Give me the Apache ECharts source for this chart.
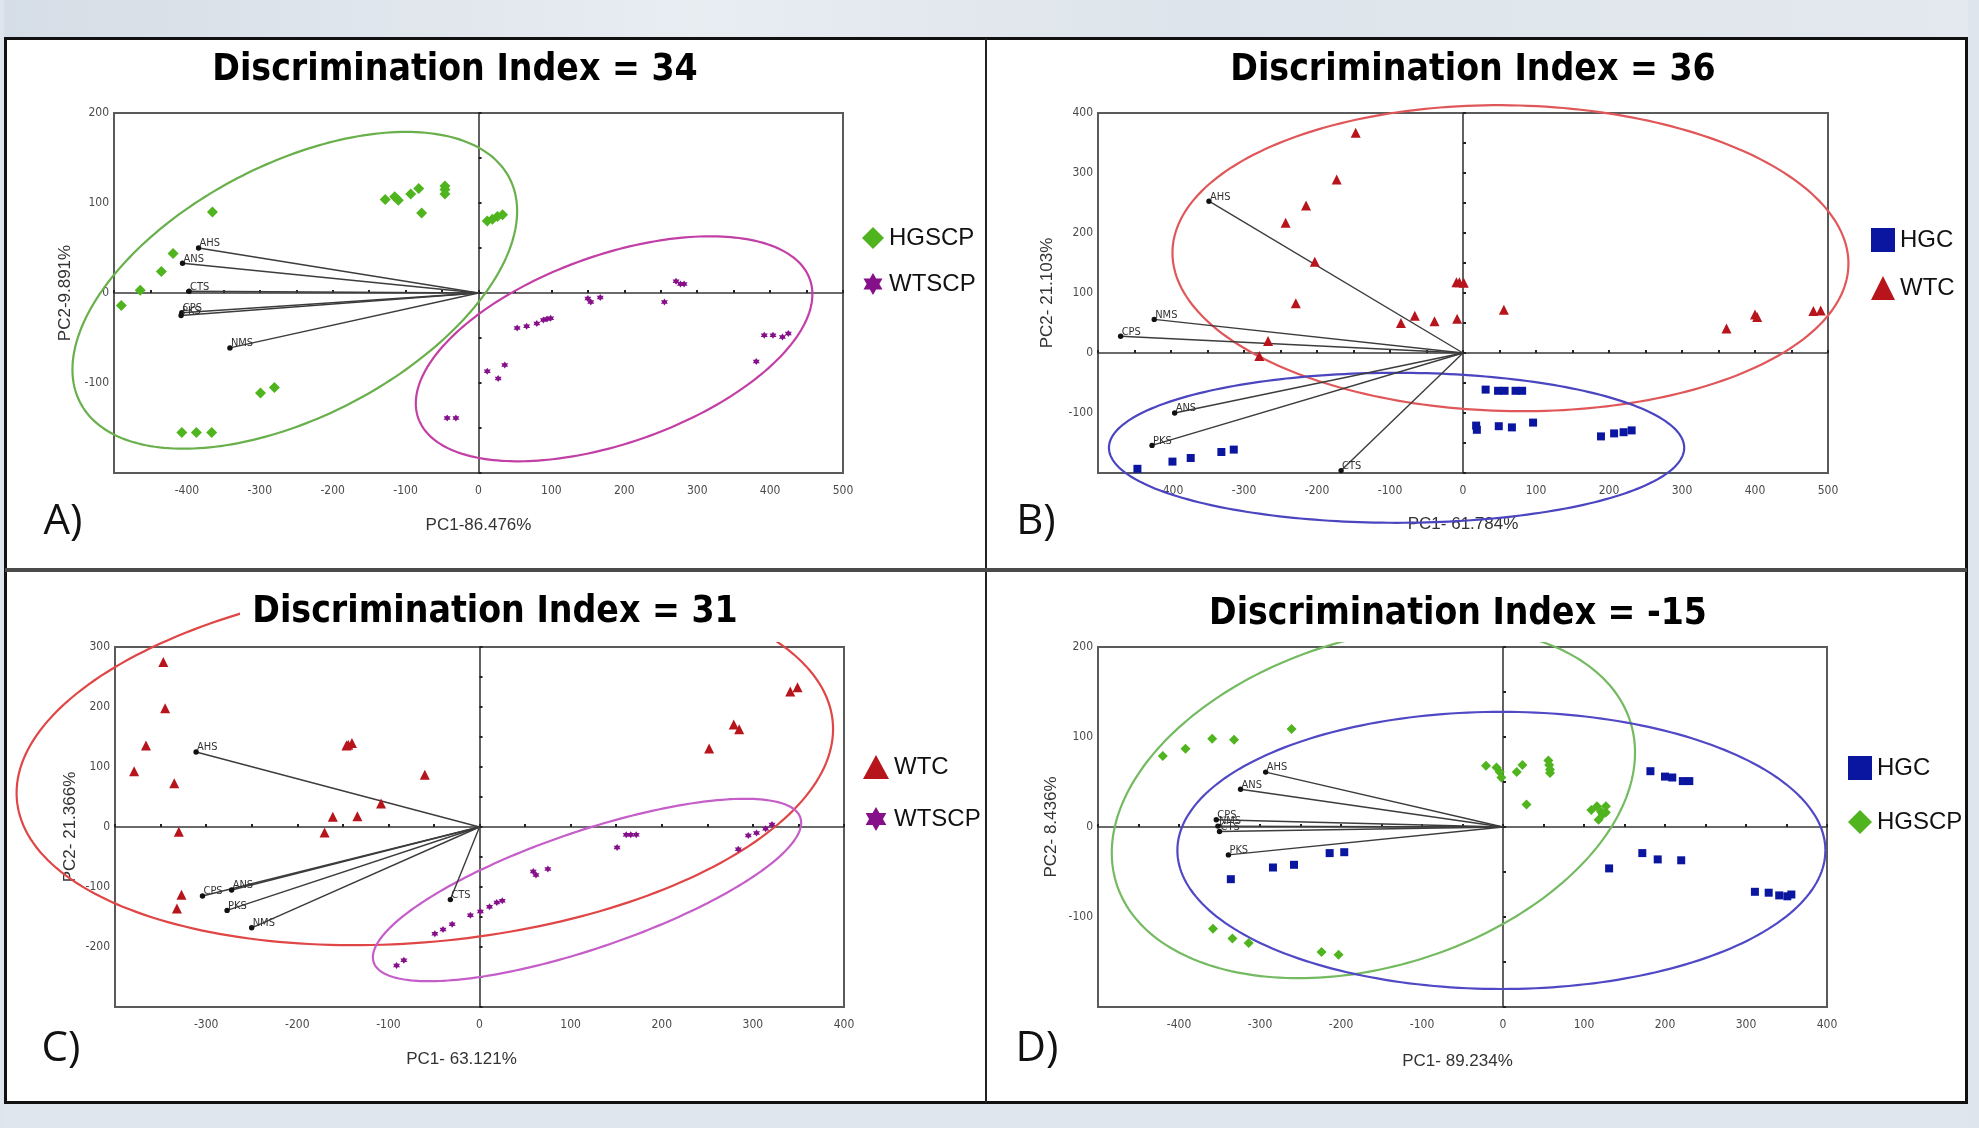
<!DOCTYPE html>
<html>
<head>
<meta charset="utf-8">
<script src="https://cdn.jsdelivr.net/npm/echarts@6/dist/echarts.min.js"></script>
<style>
html,body{margin:0;padding:0;background:#dfe5ec;}
#c{width:1979px;height:1128px;}
</style>
</head>
<body>
<div id="c"></div>
<script>
// ================= DATA =================
const TITLES = ['Discrimination Index = 34', 'Discrimination Index = 36', 'Discrimination Index = 31', 'Discrimination Index = -15'];
const PANEL_LETTERS = ['A)', 'B)', 'C)', 'D)'];
const X_NAMES = ['PC1-86.476%', 'PC1- 61.784%', 'PC1- 63.121%', 'PC1- 89.234%'];
const Y_NAMES = ['PC2-9.891%', 'PC2- 21.103%', 'PC2- 21.366%', 'PC2- 8.436%'];
const X_RANGES = [[-500, 500], [-500, 500], [-400, 400], [-500, 400]];
const Y_RANGES = [[-200, 200], [-200, 400], [-300, 300], [-200, 200]];
const LABEL_STEP = 100;
const TICK_STEP = 50;

// Panel A
const A_HGSCP = [[-490,-14],[-464,3],[-435,24],[-419,44],[-365,90],[-128,104],[-115,107],[-110,103],[-93,110],[-82,116],[-78,89],[-46,119],[-46,115],[-46,110],[12,80],[19,82],[26,85],[33,87],[-299,-111],[-280,-105],[-407,-155],[-387,-155],[-366,-155]];
const A_WTSCP = [[53,-39],[66,-37],[80,-34],[89,-30],[94,-29],[99,-28],[12,-87],[27,-95],[36,-80],[-43,-139],[-31,-139],[150,-6],[154,-10],[167,-5],[255,-10],[271,13],[277,10],[282,10],[381,-76],[392,-47],[404,-47],[417,-49],[425,-45]];
const A_LOAD_NAMES = ['AHS','ANS','CTS','CPS','PKS','NMS'];
const A_LOAD = [[-384,50],[-406,33],[-397,2],[-407,-22],[-408,-25],[-341,-61]];
// ellipse: [centerX, centerY, halfWidthX, halfHeightY, phaseDeg]
const A_ELL_HGSCP = [[-252, 3, 305, 176, 60]];
const A_ELL_WTSCP = [[186, -62, 272, 125, 61]];

// Panel B
const B_HGC = [[-446,-193],[-398,-181],[-373,-175],[-331,-165],[-314,-161],[31,-61],[48,-63],[57,-63],[72,-63],[81,-63],[18,-121],[19,-128],[49,-122],[67,-124],[96,-116],[189,-139],[207,-134],[220,-132],[231,-129]];
const B_WTC = [[-147,367],[-173,289],[-215,246],[-243,217],[-203,152],[-229,83],[-267,20],[-279,-5],[-85,50],[-66,62],[-39,53],[-8,57],[-9,118],[-5,118],[1,117],[56,72],[361,41],[400,64],[403,60],[480,70],[490,71]];
const B_LOAD_NAMES = ['AHS','NMS','CPS','ANS','PKS','CTS'];
const B_LOAD = [[-348,253],[-423,56],[-469,28],[-395,-100],[-426,-154],[-167,-196]];
const B_ELL_WTC = [[65, 158, 463, 255, 92]];
const B_ELL_HGC = [[-91, -158, 394, 125, 90]];

// Panel C
const C_WTC = [[-347,275],[-345,198],[-366,136],[-379,93],[-335,73],[-330,-8],[-327,-113],[-332,-136],[-146,136],[-144,137],[-140,140],[-60,87],[-108,39],[-161,17],[-134,18],[-170,-9],[252,131],[279,171],[285,163],[341,226],[349,233]];
const C_WTSCP = [[-91,-231],[-83,-222],[-49,-178],[-40,-171],[-30,-162],[-10,-147],[1,-141],[11,-133],[19,-126],[25,-123],[59,-74],[62,-80],[75,-70],[151,-34],[161,-13],[166,-13],[172,-13],[284,-37],[295,-14],[304,-10],[314,-3],[321,4]];
const C_LOAD_NAMES = ['AHS','CPS','ANS','PKS','NMS','CTS'];
const C_LOAD = [[-311,125],[-304,-115],[-272,-105],[-277,-139],[-250,-168],[-32,-121]];
const C_ELL_WTC = [[-60, 110, 448, 307, 80]];
const C_ELL_WTSCP = [[118, -105, 235, 152, 42.5]];

// Panel D
const D_HGSCP = [[-420,79],[-392,87],[-359,98],[-332,97],[-261,109],[-358,-113],[-334,-124],[-314,-129],[-224,-139],[-203,-142],[-21,68],[-8,66],[-4,61],[-2,55],[17,61],[24,69],[29,25],[56,74],[57,69],[58,60],[58,64],[109,19],[116,23],[121,17],[127,23],[123,14],[118,8],[127,16]];
const D_HGC = [[-336,-58],[-284,-45],[-258,-42],[-214,-29],[-196,-28],[182,62],[200,56],[209,55],[222,51],[230,51],[131,-46],[172,-29],[191,-36],[220,-37],[311,-72],[328,-73],[341,-76],[351,-77],[356,-75]];
const D_LOAD_NAMES = ['AHS','ANS','CPS','NMS','CTS','PKS'];
const D_LOAD = [[-293,61],[-324,42],[-354,8],[-352,1],[-350,-5],[-339,-31]];
const D_ELL_HGSCP = [[-160, 27, 323, 195, 73.4]];
const D_ELL_HGC = [[-2, -26, 400, 154, 90]];

// ================= STYLE / LAYOUT =================
const COL = { HGSCP:'#4fb41e', WTSCP:'#86108a', HGC:'#0b16a0', WTC:'#b8141c' };
const GRIDS = [
  {left:114, top:113, width:729, height:360},
  {left:1098, top:113, width:730, height:360},
  {left:115, top:647, width:729, height:360},
  {left:1098, top:647, width:729, height:360}
];
const NAME_GAPS_X = [44, 43, 44, 46];
const NAME_GAPS_Y = [40, 42, 36, 38];
const NAME_PAD_X = [[0,0,0,0],[0,0,0,0],[0,36,0,0],[0,10,0,0]];
const TICK_FONT = "'Liberation Sans Narrow','DejaVu Sans Condensed','Liberation Sans',Arial,sans-serif";
const SANS = "'Liberation Sans',Arial,sans-serif";

function starPath() {
  let d = '';
  for (let i = 0; i < 12; i++) {
    const r = i % 2 === 0 ? 10 : 5.774;
    const a = -Math.PI / 2 + i * Math.PI / 6;
    d += (i ? 'L' : 'M') + (10 + r * Math.cos(a)).toFixed(3) + ' ' + (10 + r * Math.sin(a)).toFixed(3);
  }
  return 'path://' + d + 'Z';
}
const STAR = starPath();
const SYMBOL = { HGSCP:'diamond', WTSCP:STAR, HGC:'rect', WTC:'triangle' };

function fitFont(text, weight, families, targetW) {
  const ctx = document.createElement('canvas').getContext('2d');
  ctx.font = weight + ' 100px ' + families;
  const w = ctx.measureText(text).width;
  return Math.round(100 * targetW / w * 10) / 10;
}
const TITLE_FAMILY = "'Liberation Sans Narrow','DejaVu Sans Condensed','Open Sans',sans-serif";
const TITLE_POS = [[455, 70, 486], [1473, 70, 486], [495, 612, 486], [1458, 614, 498]];
const LETTER_POS = [[63, 522], [1036, 522], [61, 1049], [1037, 1049]];

// ================= BUILD =================
const grids = [], xAxes = [], yAxes = [], series = [];

GRIDS.forEach((g, i) => {
  grids.push(Object.assign({show:true, borderColor:'#5a5a5a', borderWidth:2, backgroundColor:'transparent', containLabel:false, outerBoundsMode:'none'}, g));
  const [x0, x1] = X_RANGES[i], [y0, y1] = Y_RANGES[i];
  xAxes.push({gridIndex:i, type:'value', min:x0, max:x1, interval:LABEL_STEP, position:'bottom',
    axisLine:{show:false, onZero:false}, axisTick:{show:false}, splitLine:{show:false},
    axisLabel:{showMinLabel:false, fontSize:12, color:'#4a4a4a', margin:12, fontFamily:TICK_FONT},
    name:X_NAMES[i], nameLocation:'middle', nameGap:NAME_GAPS_X[i],
    nameTextStyle:{fontSize:17, color:'#333', fontFamily:SANS, padding:NAME_PAD_X[i]}});
  xAxes.push({gridIndex:i, type:'value', min:x0, max:x1, interval:TICK_STEP, position:'top',
    axisLine:{show:true, onZero:true, lineStyle:{color:'#3a3a3a', width:1.6}},
    axisTick:{show:true, length:3, lineStyle:{color:'#222', width:2}},
    axisLabel:{show:false}, splitLine:{show:false}});
  yAxes.push({gridIndex:i, type:'value', min:y0, max:y1, interval:LABEL_STEP, position:'left',
    axisLine:{show:false, onZero:false}, axisTick:{show:false}, splitLine:{show:false},
    axisLabel:{showMinLabel:false, fontSize:12, color:'#4a4a4a', margin:5, fontFamily:TICK_FONT},
    name:Y_NAMES[i], nameLocation:'middle', nameGap:NAME_GAPS_Y[i],
    nameTextStyle:{fontSize:17, color:'#333', fontFamily:SANS}});
  yAxes.push({gridIndex:i, type:'value', min:y0, max:y1, interval:TICK_STEP, position:'right',
    axisLine:{show:true, onZero:true, lineStyle:{color:'#3a3a3a', width:1.6}},
    axisTick:{show:true, length:3, lineStyle:{color:'#222', width:2}},
    axisLabel:{show:false}, splitLine:{show:false}});
});

function ellipseSeries(gi, params, color) {
  return {type:'custom', name:'ellipse' + gi + color, xAxisIndex:2*gi, yAxisIndex:2*gi, data:params,
    silent:true, clip:false, z:2,
    renderItem(p, api) {
      const cx = api.value(0), cy = api.value(1), rx = api.value(2), ry = api.value(3);
      const ph = api.value(4) * Math.PI / 180;
      const pts = [];
      for (let k = 0; k <= 240; k++) {
        const t = k / 240 * 2 * Math.PI;
        pts.push(api.coord([cx + rx * Math.cos(t), cy + ry * Math.cos(t - ph)]));
      }
      return {type:'polyline', shape:{points:pts}, style:{stroke:color, lineWidth:2.2, fill:null}};
    }};
}

function loadingSeries(gi, names, pts) {
  return {type:'custom', name:'loadings' + gi, xAxisIndex:2*gi, yAxisIndex:2*gi, data:pts,
    silent:true, clip:false, z:3,
    renderItem(p, api) {
      const o = api.coord([0, 0]);
      const e = api.coord([api.value(0), api.value(1)]);
      return {type:'group', children:[
        {type:'line', shape:{x1:o[0], y1:o[1], x2:e[0], y2:e[1]}, style:{stroke:'#3c3c3c', lineWidth:1.4}},
        {type:'circle', shape:{cx:e[0], cy:e[1], r:2.7}, style:{fill:'#111'}},
        {type:'text', x:e[0] + 1, y:e[1] + 1, style:{text:names[p.dataIndex], fill:'#333',
          font:'11px ' + TICK_FONT, align:'left', verticalAlign:'bottom'}}
      ]};
    }};
}

function scatter(gi, name, data, size) {
  return {type:'scatter', name:name, xAxisIndex:2*gi, yAxisIndex:2*gi, data:data,
    symbol:SYMBOL[name], symbolSize:size, itemStyle:{color:COL[name], opacity:1}, z:4, silent:true};
}

series.push(ellipseSeries(0, A_ELL_HGSCP, '#69b04c'), ellipseSeries(0, A_ELL_WTSCP, '#c23fa6'));
series.push(loadingSeries(0, A_LOAD_NAMES, A_LOAD));
series.push(scatter(0, 'HGSCP', A_HGSCP, 11), scatter(0, 'WTSCP', A_WTSCP, 7));

series.push(ellipseSeries(1, B_ELL_WTC, '#e0575a'), ellipseSeries(1, B_ELL_HGC, '#4b45c0'));
series.push(loadingSeries(1, B_LOAD_NAMES, B_LOAD));
series.push(scatter(1, 'HGC', B_HGC, 8), scatter(1, 'WTC', B_WTC, 10));

series.push(ellipseSeries(2, C_ELL_WTC, '#e04646'), ellipseSeries(2, C_ELL_WTSCP, '#c55ec8'));
series.push(loadingSeries(2, C_LOAD_NAMES, C_LOAD));
series.push(scatter(2, 'WTC', C_WTC, 10), scatter(2, 'WTSCP', C_WTSCP, 7));

series.push(ellipseSeries(3, D_ELL_HGSCP, '#74ba60'), ellipseSeries(3, D_ELL_HGC, '#5048c4'));
series.push(loadingSeries(3, D_LOAD_NAMES, D_LOAD));
series.push(scatter(3, 'HGSCP', D_HGSCP, 10), scatter(3, 'HGC', D_HGC, 8));

const legendText = {fontSize:24, color:'#111', fontFamily:SANS};
const legends = [
  {data:['HGSCP','WTSCP'], orient:'vertical', left:857, top:221, itemWidth:22, itemHeight:22, itemGap:22, textStyle:legendText, selectedMode:false},
  {data:['HGC','WTC'], orient:'vertical', left:1866, top:223, itemWidth:24, itemHeight:24, itemGap:24, textStyle:legendText, selectedMode:false},
  {data:['WTC','WTSCP'], orient:'vertical', left:858, top:750, itemWidth:26, itemHeight:24, itemGap:28, textStyle:legendText, selectedMode:false},
  {data:['HGC','HGSCP'], orient:'vertical', left:1843, top:751, itemWidth:24, itemHeight:24, itemGap:30, textStyle:legendText, selectedMode:false}
];

const graphics = [
  {type:'rect', shape:{x:0, y:0, width:1979, height:37}, z:100, silent:true,
    style:{fill:new echarts.graphic.LinearGradient(0, 0, 1, 0, [{offset:0, color:'#d5dde6'}, {offset:0.35, color:'#e8edf2'}, {offset:0.6, color:'#dde4eb'}, {offset:1, color:'#e3e9ef'}])}},
  {type:'rect', shape:{x:0, y:1104, width:1979, height:24}, z:100, silent:true, style:{fill:'#e0e6ed'}},
  {type:'rect', shape:{x:0, y:0, width:4, height:1128}, z:100, silent:true, style:{fill:'#dfe5ec'}},
  {type:'rect', shape:{x:1968, y:0, width:11, height:1128}, z:100, silent:true, style:{fill:'#dfe5ec'}},
  {type:'rect', shape:{x:5.5, y:38.5, width:1961, height:1064}, z:101, silent:true, style:{fill:null, stroke:'#111', lineWidth:3}},
  {type:'line', shape:{x1:986, y1:38, x2:986, y2:1103}, z:101, silent:true, style:{stroke:'#222', lineWidth:2}},
  {type:'line', shape:{x1:5, y1:570, x2:1967, y2:570}, z:101, silent:true, style:{stroke:'#4a4a4a', lineWidth:4}},
  {type:'rect', shape:{x:240, y:574, width:568, height:68}, z:50, silent:true, style:{fill:'#fff'}},
  {type:'rect', shape:{x:1193, y:574, width:568, height:68}, z:50, silent:true, style:{fill:'#fff'}}
];
TITLES.forEach((t, i) => {
  const [x, y, w] = TITLE_POS[i];
  const fs = fitFont(t, 'bold', TITLE_FAMILY, w);
  graphics.push({type:'text', x:x, y:y, z:60, silent:true,
    style:{text:t, font:'bold ' + fs + 'px ' + TITLE_FAMILY, fill:'#000', align:'center', verticalAlign:'middle'}});
});
PANEL_LETTERS.forEach((t, i) => {
  const [x, y] = LETTER_POS[i];
  graphics.push({type:'text', x:x, y:y, z:60, silent:true,
    style:{text:t, font:'42px ' + "'Open Sans','Noto Sans',sans-serif", fill:'#111', align:'center', verticalAlign:'middle'}});
});

const chart = echarts.init(document.getElementById('c'), null, {renderer:'canvas'});
chart.setOption({
  backgroundColor:'#ffffff',
  animation:false,
  grid:grids,
  xAxis:xAxes,
  yAxis:yAxes,
  legend:legends,
  series:series,
  graphic:graphics
});
</script>
</body>
</html>
